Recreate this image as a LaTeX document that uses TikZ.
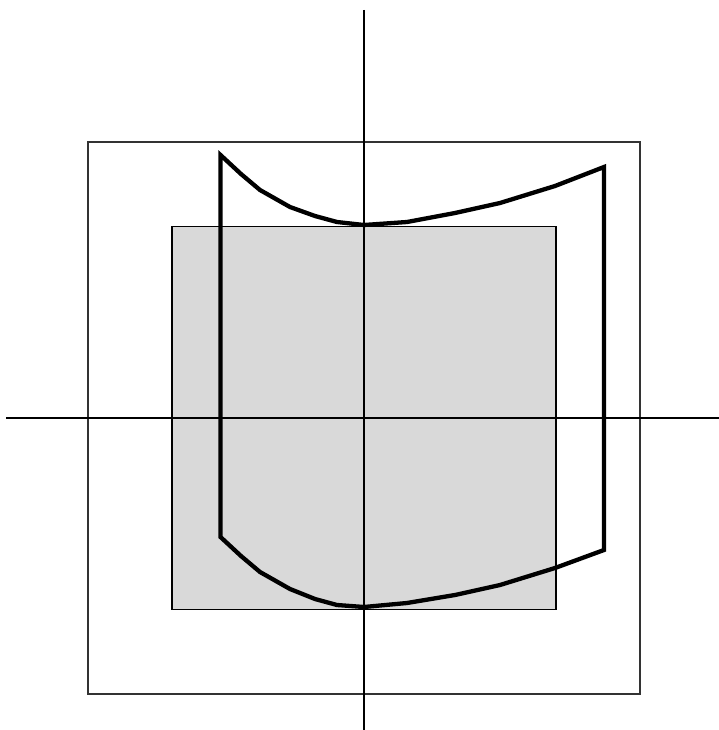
\documentclass[tikz,border=0pt]{standalone}
\definecolor{panelgray}{HTML}{D9D9D9}
\tikzset{
  axis/.style={line width=1.9pt, black},
  outerbox/.style={line width=1.2pt, draw=black!80},
  innerbox/.style={line width=1.6pt, draw=black, fill=panelgray},
  profile/.style={line width=4.3pt, black, line join=miter}
}
\begin{document}
\begin{tikzpicture}[x=1pt,y=-1pt]
\useasboundingbox (0,0) rectangle (719,730);
\draw[outerbox] (88,142) rectangle (640,694);
\draw[innerbox] (172,226.5) rectangle (556,609.5);
\draw[axis] (6,418) -- (719,418);
\draw[axis] (364,10) -- (364,730);
\draw[profile] (220.5,537) -- (220.5,155)
  -- (241,174) -- (260,190) -- (290,207) -- (315,216) -- (337,222) -- (364,225)
  -- (407,222) -- (455,213) -- (500,203) -- (555,186) -- (604,167)
  -- (604,550)
  -- (555,568) -- (500,585) -- (455,595) -- (407,603) -- (364,607)
  -- (337,605) -- (315,599) -- (290,589) -- (260,572) -- (241,556) -- cycle;
\end{tikzpicture}
\end{document}
